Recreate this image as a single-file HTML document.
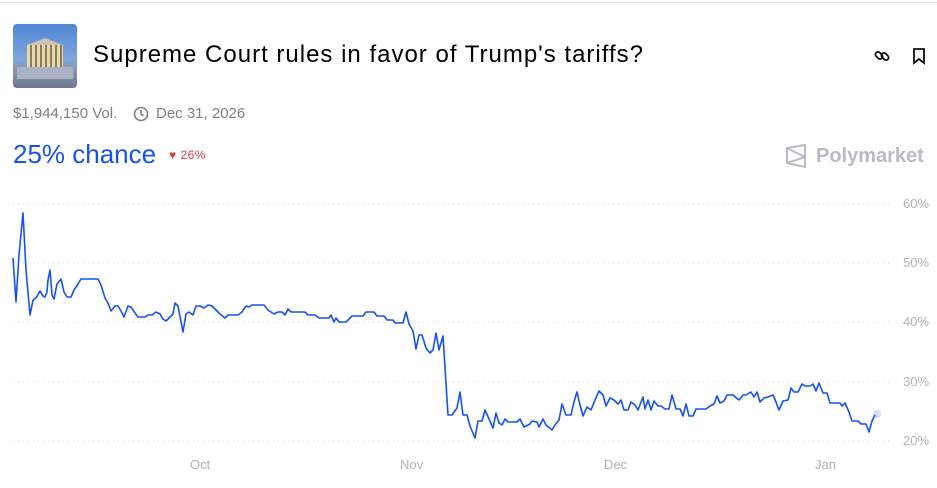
<!DOCTYPE html>
<html><head><meta charset="utf-8"><style>
body{margin:0;width:937px;height:488px;background:#fff;font-family:"Liberation Sans",sans-serif;position:relative;overflow:hidden}
.a{position:absolute;white-space:nowrap}
</style></head><body>
<div class="a" style="left:0;top:2px;width:937px;height:1px;background:#e6e8ea"></div>
<div class="a" style="left:13px;top:24px;width:64px;height:64px;border-radius:4px;background:linear-gradient(#4f86d6 0%,#7fa6dc 55%,#8b93a6 75%,#6a7690 100%);overflow:hidden">
<div style="position:absolute;left:14px;top:14px;width:36px;height:7px;background:#c9c3b8;clip-path:polygon(50% 0,100% 100%,0 100%)"></div>
<div style="position:absolute;left:14px;top:21px;width:36px;height:22px;background:repeating-linear-gradient(90deg,#e8d9a8 0 3px,#8a7a5e 3px 5px)"></div>
<div style="position:absolute;left:4px;top:43px;width:56px;height:12px;background:#aab1c4"></div>
</div>
<div class="a" style="left:93px;top:41px;font-size:24px;letter-spacing:1px;color:#000">Supreme Court rules in favor of Trump's tariffs?</div>
<svg class="a" style="left:873px;top:47px" width="18" height="18" viewBox="0 0 18 18" fill="none" stroke="#111" stroke-width="1.8"><rect x="2" y="6" width="8" height="5" rx="2.5" transform="rotate(45 6 8.5)"/><rect x="8" y="7" width="8" height="5" rx="2.5" transform="rotate(45 12 9.5)"/></svg>
<svg class="a" style="left:911px;top:47px" width="16" height="18" viewBox="0 0 16 18" fill="none" stroke="#111" stroke-width="1.8"><path d="M3 2h10v14l-5-4-5 4z"/></svg>
<div class="a" style="left:13px;top:105px;font-size:15px;color:#7b8088">$1,944,150 Vol.</div>
<svg class="a" style="left:133px;top:106px" width="16" height="16" viewBox="0 0 16 16" fill="none" stroke="#7b8088" stroke-width="1.6"><circle cx="8" cy="8" r="6.5"/><path d="M8 4v4l2.5 2"/></svg>
<div class="a" style="left:156px;top:105px;font-size:15px;color:#7b8088">Dec 31, 2026</div>
<div class="a" style="left:13px;top:139px;font-size:26px;color:#1652f0">25% chance</div>
<div class="a" style="left:169px;top:148px;font-size:12px;color:#e23b3b;letter-spacing:0.5px">&#9829; 26%</div>
<svg class="a" style="left:785px;top:144px" width="22" height="24" viewBox="0 0 22 24" fill="none" stroke="#b8bcc2" stroke-width="2"><path d="M2 4l18-3v22L2 19zM2 4l18 9M2 19l18-6"/></svg>
<div class="a" style="left:816px;top:145px;font-size:20px;color:#b8bcc2;font-weight:bold">Polymarket</div>
<svg class="a" style="left:0;top:0" width="937" height="488">
<g stroke="#d5d8dc" stroke-dasharray="1 4" stroke-width="1">
<line x1="13" x2="893" y1="204" y2="204"/><line x1="13" x2="893" y1="263" y2="263"/><line x1="13" x2="893" y1="322" y2="322"/><line x1="13" x2="893" y1="382" y2="382"/><line x1="13" x2="893" y1="441" y2="441"/></g>
<g font-size="13" fill="#b0b4ba" font-family="Liberation Sans,sans-serif">
<text x="903" y="208">60%</text><text x="903" y="267">50%</text><text x="903" y="326">40%</text><text x="903" y="386">30%</text><text x="903" y="445">20%</text>
<text x="190" y="469">Oct</text><text x="400" y="469">Nov</text><text x="604" y="469">Dec</text><text x="815" y="469">Jan</text></g>
<polyline fill="none" stroke="#1652f0" stroke-width="1.6" stroke-linejoin="round" points="13,258 16,302 19,255 23,213 26,270 30,315 33,300 36,298 40,291 43,296 45,297 47,292 48,280 50,270 52,295 54,299 57,284 61,279 64,292 67,297 71,297 74,290 78,284 81,279 98,279 101,285 105,298 108,303 111,311 115,306 118,306 121,311 124,317 128,306 131,307 135,313 138,317 145,317 148,315 152,315 156,312 160,314 163,319 166,321 170,317 173,314 175,303 178,306 183,332 186,314 189,312 193,315 196,306 200,306 204,308 208,305 212,306 216,310 220,314 225,318 228,315 238,315 242,312 246,306 249,307 252,305 264,305 268,310 271,312 274,314 278,312 282,312 285,315 288,309 291,312 305,312 308,315 315,315 319,318 329,318 331,315 334,322 336,318 339,322 346,322 352,316 363,316 366,312 374,312 377,316 384,316 387,320 393,320 395,323 403,323 406,312 409,324 413,331 416,349 419,335 422,335 426,348 430,353 433,350 436,333 439,350 443,336 448,415 452,415 457,408 460,392 463,415 467,415 470,426 475,438 478,421 482,421 485,410 489,419 493,428 496,413 499,423 502,425 505,419 508,422 517,422 520,419 524,427 530,424 532,421 537,422 539,427 543,419 546,425 552,430 555,425 559,420 562,404 566,415 571,415 574,402 577,392 580,405 583,416 587,407 591,410 595,400 599,391 603,395 606,406 610,398 614,400 618,404 621,400 624,410 628,410 631,402 635,405 638,410 643,397 645,409 648,400 651,410 654,401 658,406 661,406 665,409 669,409 672,395 676,409 680,409 683,416 686,404 689,416 693,416 696,409 706,409 710,406 714,404 717,396 720,403 724,401 727,395 733,395 739,400 743,395 746,395 751,392 754,397 757,392 760,402 764,398 768,397 773,395 776,402 779,410 783,401 788,400 791,388 794,392 798,392 802,384 805,386 810,386 813,384 816,391 819,383 823,393 827,393 830,403 833,403 840,403 842,406 845,403 849,412 852,421 858,421 861,424 866,424 869,432 872,421 875,415"/>
<circle cx="877" cy="414" r="4" fill="#1652f0" opacity="0.2"/>
</svg>
</body></html>
